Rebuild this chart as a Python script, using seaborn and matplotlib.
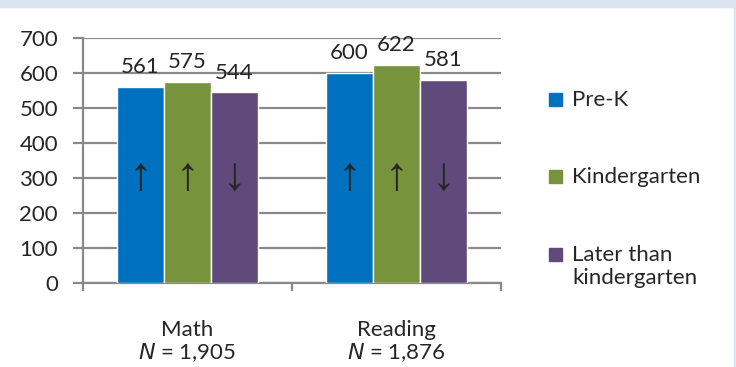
import matplotlib
matplotlib.use('Agg')
from matplotlib import pyplot as plt
from matplotlib.patches import Rectangle
import pandas as pd
import seaborn as sns

# Chart data
subjects = ['Math', 'Reading']
sample_sizes = ['1,905', '1,876']
groups = ['Pre-K', 'Kindergarten', 'Later than kindergarten']
legend_labels = [['Pre-K'], ['Kindergarten'], ['Later than', 'kindergarten']]
math_scores = [561, 575, 544]
reading_scores = [600, 622, 581]
arrows = [['\u2191', '\u2191', '\u2193'], ['\u2191', '\u2191', '\u2193']]
colors = ['#0070c0', '#77933c', '#604a7b']
y_ticks = [0, 100, 200, 300, 400, 500, 600, 700]

df = pd.DataFrame({
    'subject': [s for s in subjects for _ in groups],
    'group': groups * 2,
    'score': math_scores + reading_scores,
})

sns.set_style('white')
plt.rcParams['font.family'] = ['Lato', 'DejaVu Sans']
FS = 16
GREY = '#898989'

fig = plt.figure(figsize=(7.36, 3.67), dpi=100)
frame = '#dbe5f1'
fig.patches.append(Rectangle((0, 0.981), 1, 0.019, transform=fig.transFigure,
                             color=frame, zorder=0))
fig.patches.append(Rectangle((0.9973, 0), 0.0027, 1, transform=fig.transFigure,
                             color=frame, zorder=0))

ax = fig.add_axes([0.1128, 0.2289, 0.568, 0.668])
sns.barplot(data=df, x='subject', y='score', hue='group', palette=colors,
            width=0.675, gap=0, saturation=1, ax=ax, legend=False, zorder=3)

ax.set_ylim(0, 700)
ax.set_xlim(-0.5, 1.5)
ax.set_yticks(y_ticks)
ax.yaxis.grid(True, color=GREY, lw=1.6, zorder=0)
ax.tick_params(axis='y', labelsize=FS, length=7, color=GREY, width=1.6,
               left=True, pad=11)
ax.set_xticks([-0.5, 0.5, 1.5])
ax.set_xticklabels([])
ax.tick_params(axis='x', length=6, color=GREY, width=1.6, bottom=True)
for side in ['top', 'right']:
    ax.spines[side].set_visible(False)
for side in ['left', 'bottom']:
    ax.spines[side].set_color(GREY)
    ax.spines[side].set_linewidth(1.6)
ax.set_xlabel('')
ax.set_ylabel('')

# value labels and arrows
for hue_i, container in enumerate(ax.containers):
    ax.bar_label(container, fmt='%d', fontsize=FS, padding=7)
    for bar_i, bar in enumerate(container):
        cx = bar.get_x() + bar.get_width() / 2
        ax.text(cx, 300, arrows[bar_i][hue_i], ha='center', va='center',
                fontsize=34, family=['Liberation Sans', 'DejaVu Sans'],
                zorder=5)

# category labels
for i, (s, n) in enumerate(zip(subjects, sample_sizes)):
    ax.text(i, -150, s, ha='center', va='baseline', fontsize=FS)
    ax.text(i, -216, '$\\it{N}$ = ' + n, ha='center', va='baseline',
            fontsize=FS)

# legend
leg_base = [106, 183, 261]
for lines, col, y in zip(legend_labels, colors, leg_base):
    yf = 1 - y / 367
    fig.patches.append(Rectangle((549 / 736, yf), 13 / 736, 13 / 367,
                                 transform=fig.transFigure, color=col))
    for k, line in enumerate(lines):
        fig.text(572 / 736, yf - k * 23 / 367, line, ha='left',
                 va='baseline', fontsize=FS)

plt.savefig('out.png', dpi=100)
